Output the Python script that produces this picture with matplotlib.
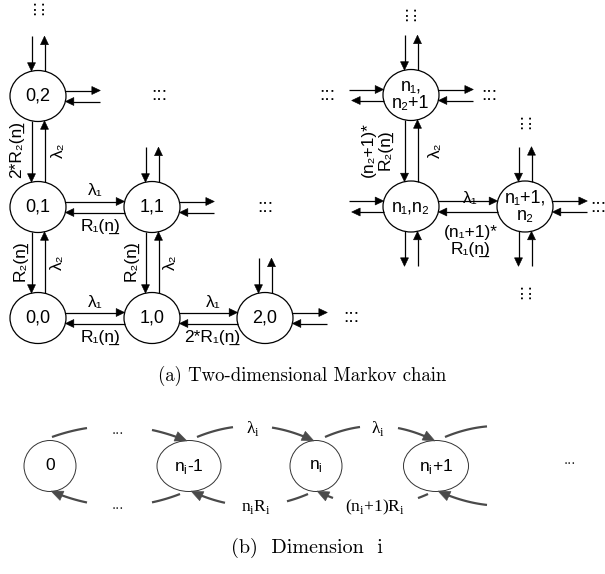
import numpy as np
import matplotlib
matplotlib.use("Agg")
import matplotlib.pyplot as plt
from matplotlib.patches import Ellipse, Polygon

plt.rcParams["font.family"] = ["Liberation Sans", "DejaVu Sans"]

# ---------------- content ----------------
UL_N = "n\u0332"  # underlined n (population vector)
grid_states = ["0,2", "0,1", "1,1", "0,0", "1,0", "2,0"]
general_states = ["n\u2081,\nn\u2082+1", "n\u2081,n\u2082", "n\u2081+1,\nn\u2082"]
arrival_1 = "\u03bb\u2081"
arrival_2 = "\u03bb\u2082"
service_1 = ["R\u2081(" + UL_N + ")", "R\u2081(" + UL_N + ")",
             "2*R\u2081(" + UL_N + ")", "(n\u2081+1)*\nR\u2081(" + UL_N + ")"]
service_2 = ["2*R\u2082(" + UL_N + ")", "R\u2082(" + UL_N + ")",
             "R\u2082(" + UL_N + ")", "(n\u2082+1)*\nR\u2082(" + UL_N + ")"]
dim_states = ["0", r"n$_\mathregular{i}$-1", r"n$_\mathregular{i}$", r"n$_\mathregular{i}$+1"]
dim_up = ["...", "\u03bb" + r"$_\mathregular{i}$", "\u03bb" + r"$_\mathregular{i}$"]
dim_down = ["...", r"n$_\mathregular{i}$R$_\mathregular{i}$", r"(n$_\mathregular{i}$+1)R$_\mathregular{i}$"]
captions = ["(a) Two-dimensional Markov chain", "(b)  Dimension  i"]

# ---------------- canvas (1 data unit = 1 pixel) ----------------
W, H = 605, 574
fig = plt.figure(figsize=(W / 100, H / 100), dpi=100)
ax = fig.add_axes([0, 0, 1, 1])
ax.set_xlim(0, W)
ax.set_ylim(H, 0)
ax.set_axis_off()

INK = "black"
LW = 0.9
A, B = 28.0, 25.5      # state ellipse semi-axes, panel (a)
DH, DV, STUB = 5.5, 6.5, 35.0
FS_NODE, FS_LAB = 13, 12.5


def head(tip, u, hl, hw, color):
    n = np.array([-u[1], u[0]])
    base = tip - u * hl
    ax.add_patch(Polygon([tip, base + n * hw, base - n * hw], closed=True,
                         fc=color, ec=color, lw=0.4, zorder=4))
    return base


def arrow(x0, y0, x1, y1, color=INK, lw=LW, hl=8.5, hw=4.0):
    p0 = np.array([x0, y0], float)
    p1 = np.array([x1, y1], float)
    u = (p1 - p0) / np.hypot(*(p1 - p0))
    base = head(p1, u, hl, hw, color)
    ax.plot([p0[0], base[0] + u[0]], [p0[1], base[1] + u[1]], color=color,
            lw=lw, solid_capstyle="butt", zorder=3)


def xedge(x, dy, side):
    return x + side * A * np.sqrt(1 - (dy / B) ** 2)


def yedge(y, dx, side):
    return y + side * B * np.sqrt(1 - (dx / A) ** 2)


def state(x, y, text):
    ax.add_patch(Ellipse((x, y), 2 * A, 2 * B, fc="white", ec=INK, lw=LW, zorder=2))
    ax.text(x, y, text, ha="center", va="center", fontsize=FS_NODE,
            linespacing=1.05, zorder=5)


def h_pair(xl, xr, y):
    arrow(xedge(xl, -DH, 1), y - DH, xedge(xr, -DH, -1), y - DH)
    arrow(xedge(xr, DH, -1), y + DH, xedge(xl, DH, 1), y + DH)


def v_pair(x, yu, yl):
    arrow(x - DV, yedge(yu, -DV, 1), x - DV, yedge(yl, -DV, -1))
    arrow(x + DV, yedge(yl, DV, -1), x + DV, yedge(yu, DV, 1))


def stub_top(x, y):
    t = yedge(y, DV, -1)
    arrow(x - DV, t - STUB, x - DV, t)
    arrow(x + DV, t, x + DV, t - STUB)


def stub_bottom(x, y):
    b = yedge(y, DV, 1)
    arrow(x - DV, b, x - DV, b + STUB)
    arrow(x + DV, b + STUB, x + DV, b)


def stub_right(x, y):
    r = xedge(x, DH, 1)
    arrow(r, y - DH, r + STUB, y - DH)
    arrow(r + STUB, y + DH, r, y + DH)


def stub_left(x, y):
    l = xedge(x, DH, -1)
    arrow(l - STUB, y - DH, l, y - DH)
    arrow(l, y + DH, l - STUB + 3, y + DH)


def dots(x, y, vertical=False):
    ax.text(x, y, ":::", fontsize=14, rotation=90 if vertical else 0,
            ha="center", va="center", zorder=5)


def label(x, y, text, rot=0, **kw):
    ax.text(x, y, text, ha="center", va="center", fontsize=FS_LAB,
            rotation=rot, linespacing=1.15, zorder=5, **kw)


# ---------------- panel (a): small corner of the lattice ----------------
cx = [38, 152, 265]
ry = {0: 318, 1: 207, 2: 96}
grid_pos = [(0, 2), (0, 1), (1, 1), (0, 0), (1, 0), (2, 0)]

h_pair(cx[0], cx[1], ry[1])
h_pair(cx[0], cx[1], ry[0])
h_pair(cx[1], cx[2], ry[0])
v_pair(cx[0], ry[2], ry[1])
v_pair(cx[0], ry[1], ry[0])
v_pair(cx[1], ry[1], ry[0])
for (i, j) in [(0, 2), (1, 1), (2, 0)]:
    stub_top(cx[i], ry[j])
    stub_right(cx[i], ry[j])

for (i, j), txt in zip(grid_pos, grid_states):
    state(cx[i], ry[j], txt)

label(95, 190, arrival_1)
label(95, 302, arrival_1)
label(213, 302, arrival_1)
label(100, 226, service_1[0])
label(100, 337, service_1[1])
label(212, 337, service_1[2])
label(17, 150, service_2[0], rot=90)
label(20, 261, service_2[1], rot=90)
label(131, 261, service_2[2], rot=90)
label(58, 150, arrival_2, rot=90)
label(57, 262, arrival_2, rot=90)
label(170, 262, arrival_2, rot=90)

dots(39, 7, vertical=True)
dots(159, 95)
dots(265, 207)
dots(351, 318)

# ---------------- panel (a): generic interior states ----------------
gx = [411, 525]
gy_top, gy_mid = 95, 206.5

v_pair(gx[0], gy_top, gy_mid)
h_pair(gx[0], gx[1], gy_mid)
stub_top(gx[0], gy_top)
stub_left(gx[0], gy_top)
stub_right(gx[0], gy_top)
stub_left(gx[0], gy_mid)
stub_bottom(gx[0], gy_mid)
stub_top(gx[1], gy_mid)
stub_right(gx[1], gy_mid)
stub_bottom(gx[1], gy_mid)

state(gx[0], gy_top, general_states[0])
state(gx[0], gy_mid, general_states[1])
state(gx[1], gy_mid, general_states[2])

label(470, 198, arrival_1)
label(471, 241, service_1[3])
label(377, 150, service_2[3], rot=90)
label(435, 150, arrival_2, rot=90)

dots(411, 13, vertical=True)
dots(327, 95)
dots(489, 95)
dots(526, 121, vertical=True)
dots(526, 291, vertical=True)
dots(598, 207)

# ---------------- panel (b): birth-death chain of one dimension ----------------
GRAY = "#4a4a4a"
BY = 466
bx = [50, 189, 316, 436]
bw = [52, 64, 52, 65]
BH = 51
SERIF = ["Liberation Serif", "DejaVu Serif"]

for x, w, txt in zip(bx, bw, dim_states):
    ax.add_patch(Ellipse((x, BY), w, BH, fc="white", ec="#333333", lw=0.7, zorder=2))
    ax.text(x, BY, txt, ha="center", va="center", fontsize=12.5, zorder=5)


def bez(p0, c, p2, t):
    t = np.asarray(t)[:, None]
    return (1 - t) ** 2 * p0 + 2 * t * (1 - t) * c + t ** 2 * p2


def curved(p0, p2, cy, pieces, arrow_end):
    p0 = np.array(p0, float)
    p2 = np.array(p2, float)
    c = np.array([(p0[0] + p2[0]) / 2, cy])
    span = p2[0] - p0[0]
    for k, (xa, xb) in enumerate(pieces):
        ta, tb = (xa - p0[0]) / span, (xb - p0[0]) / span
        pts = bez(p0, c, p2, np.linspace(ta, tb, 40))
        if arrow_end and k == len(pieces) - 1:
            tip = pts[-1]
            u = 2 * (p2 - c)
            u = u / np.hypot(*u)
            base = head(tip, u, 12, 5, GRAY)
            keep = np.hypot(*(pts - tip).T) > 11
            pts = np.vstack([pts[keep], base + u])
        ax.plot(pts[:, 0], pts[:, 1], color=GRAY, lw=1.6, solid_capstyle="butt", zorder=3)


UP_Y0, UP_Y1, UP_C = 437, 441, 413
DN_Y0, DN_Y1, DN_C = 494, 491, 519

# upward transitions (arrival), left to right along the top
curved((52, UP_Y0), (187, UP_Y1), UP_C, [(52, 87), (152, 187)], True)
curved((197, UP_Y0), (314, UP_Y1), UP_C, [(197, 233), (272, 314)], True)
curved((325, UP_Y0), (435, UP_Y1), UP_C, [(325, 360), (398, 435)], True)
curved((445, UP_Y0), (560, UP_Y1), UP_C, [(445, 487)], False)

# downward transitions (service), right to left along the bottom
curved((180, DN_Y0), (51, DN_Y1), DN_C, [(180, 152), (87, 51)], True)
curved((308, DN_Y0), (191, DN_Y1), DN_C, [(308, 287), (225, 191)], True)
curved((428, DN_Y0), (317, DN_Y1), DN_C, [(428, 418), (333, 317)], True)
curved((560, DN_Y0), (438, DN_Y1), DN_C, [(487, 438)], True)

up_lab_x = [118, 253, 378]
dn_lab_x = [118, 256, 375]
for x, t in zip(up_lab_x, dim_up):
    if t == "...":
        ax.text(x, 430, t, ha="center", va="center", fontsize=11, color="#333333")
    else:
        ax.text(x, 428, t, ha="center", va="center", fontsize=12.5, family=SERIF)
for x, t in zip(dn_lab_x, dim_down):
    if t == "...":
        ax.text(x, 505, t, ha="center", va="center", fontsize=11, color="#333333")
    else:
        ax.text(x, 507, t, ha="center", va="center", fontsize=12.5, family=SERIF)
ax.text(570, 460, "...", ha="center", va="center", fontsize=11, color="#333333")

# ---------------- captions ----------------
ax.text(302, 376, captions[0], ha="center", va="center", fontsize=13.5, family="cmr10")
ax.text(307, 548, captions[1], ha="center", va="center", fontsize=14.5, family="cmr10")

fig.savefig("out.png", dpi=100)
